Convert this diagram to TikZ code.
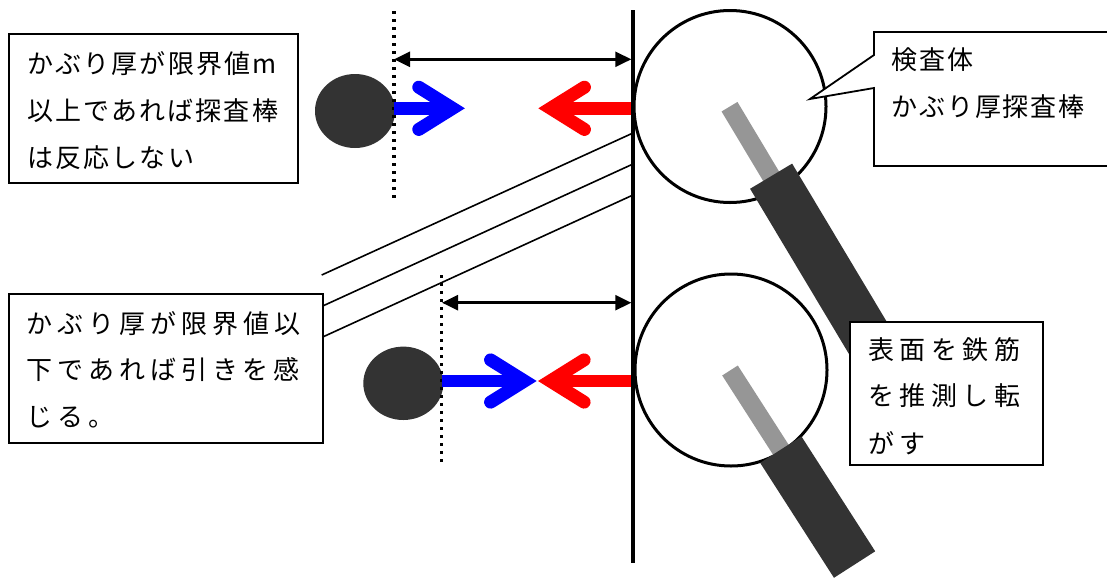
\documentclass[tikz,border=0pt]{standalone}
\usepackage{fontspec}
\usetikzlibrary{arrows.meta,shapes.geometric}
% Japanese label fonts with a little tracking per box
\newfontfamily\jpTL[LetterSpace=8]{Noto Sans CJK JP}
\newfontfamily\jpBL[LetterSpace=19]{Noto Sans CJK JP}
\newfontfamily\jpTR[LetterSpace=7]{Noto Sans CJK JP}
\newfontfamily\jpBR[LetterSpace=21]{Noto Sans CJK JP}
\definecolor{rebar}{HTML}{333333}
\definecolor{tipgray}{HTML}{969696}
\definecolor{pushblue}{HTML}{0000FF}
\definecolor{pullred}{HTML}{FF0000}
\begin{document}
\begin{tikzpicture}[x=1pt,y=-1pt,
  wall/.style={line width=3.5pt},
  lens/.style={circle, draw, line width=3pt, fill=white, inner sep=0pt, minimum size=192pt},
  rebarnode/.style={ellipse, fill=rebar, inner sep=0pt},
  dimline/.style={line width=2.5pt, {Triangle[length=16pt,width=15pt]}-{Triangle[length=16pt,width=15pt]}},
  coverline/.style={line width=3.3pt, dash pattern=on 3.3pt off 4.7pt},
  leader/.style={line width=1.6pt},
  shaft/.style={line width=12.5pt},
  chevron/.style={line width=13pt, line cap=round, line join=miter},
  textbox/.style={rectangle, draw, line width=1.8pt, fill=white, inner sep=0pt},
  tl/.style={anchor=base west, inner sep=0pt, font=\jpTL\fontsize{26}{30}\selectfont},
  bl/.style={anchor=base west, inner sep=0pt, font=\jpBL\fontsize{26}{30}\selectfont},
  tr/.style={anchor=base west, inner sep=0pt, font=\jpTR\fontsize{26}{30}\selectfont},
  br/.style={anchor=base west, inner sep=0pt, font=\jpBR\fontsize{26}{30}\selectfont}]
\useasboundingbox (0,0) rectangle (1107,579);

% leader lines from the lower note to the concrete surface
\coordinate (leadA0) at (321.7,275);  \coordinate (leadA1) at (633,133);
\coordinate (leadB0) at (322.7,306);  \coordinate (leadB1) at (633,164);
\coordinate (leadC0) at (322.7,337);  \coordinate (leadC1) at (633,195);
\draw[leader] (leadA0) -- (leadA1);
\draw[leader] (leadB0) -- (leadB1);
\draw[leader] (leadC0) -- (leadC1);

% concrete surface
\coordinate (wallTop) at (633,10);
\coordinate (wallBot) at (633,563);
\draw[wall] (wallTop) -- (wallBot);

% cover depth dimensions
\coordinate (dimAl) at (394,59.3);  \coordinate (dimAr) at (631.3,59.3);
\coordinate (dimBl) at (442,302.7); \coordinate (dimBr) at (631.3,302.7);
\draw[dimline] (dimAl) -- (dimAr);
\draw[dimline] (dimBl) -- (dimBr);

% inspection lenses
\node[lens] (lensA) at (730,106.5) {};
\node[lens] (lensB) at (731,370) {};

% cover probes (gray tip, dark grip)
\begin{scope}[shift={(729.5,106.7)}, rotate=-59.1]
  \fill[tipgray] (0,-9.25) rectangle (90,9.25);
  \fill[rebar] (81,-24.5) rectangle (281,24.5);
\end{scope}
\begin{scope}[shift={(730,370.5)}, rotate=-57.3]
  \fill[tipgray] (0,-9.25) rectangle (100,9.25);
  \fill[rebar] (94,-24.5) rectangle (230.6,24.5);
\end{scope}

% reinforcing bars
\node[rebarnode, minimum width=80pt, minimum height=74pt] (barA) at (355,111) {};
\node[rebarnode, minimum width=80pt, minimum height=73.4pt] (barB) at (403.3,383.3) {};

% limit lines
\coordinate (limAt) at (394,11);   \coordinate (limAb) at (394,201);
\coordinate (limBt) at (441.7,275); \coordinate (limBb) at (441.7,463);
\draw[coverline] (limAt) -- (limAb);
\draw[coverline] (limBt) -- (limBb);

% forces, upper case
\coordinate (pushA0) at (394,108.3);   \coordinate (pushA1) at (452.6,108.3);
\coordinate (pullA0) at (631.3,108.3); \coordinate (pullA1) at (550.6,108.3);
\draw[shaft, pushblue] (pushA0) -- (pushA1);
\draw[chevron, pushblue] (418.8,87.2) -- (pushA1) -- (418.8,129.4);
\draw[shaft, pullred] (pullA0) -- (pullA1);
\draw[chevron, pullred] (584.4,87.2) -- (pullA1) -- (584.4,129.4);

% forces, lower case
\coordinate (pushB0) at (441.7,381);   \coordinate (pushB1) at (524.4,381);
\coordinate (pullB0) at (631.3,381);   \coordinate (pullB1) at (550.3,381);
\draw[shaft, pushblue] (pushB0) -- (pushB1);
\draw[chevron, pushblue] (490.6,359.9) -- (pushB1) -- (490.6,402.1);
\draw[shaft, pullred] (pullB0) -- (pullB1);
\draw[chevron, pullred] (584.1,359.9) -- (pullB1) -- (584.1,402.1);

% callout for the lens
\draw[line width=1.8pt, fill=white] (1115,32) -- (874,32) -- (874,55) -- (810,99)
  -- (874,88) -- (874,166) -- (1115,166);

% note boxes
\node[textbox, minimum width=288.4pt, minimum height=148.4pt] (boxTL) at (153.5,108.5) {};
\node[textbox, minimum width=313.4pt, minimum height=149pt] (boxBL) at (166,368.8) {};
\node[textbox, minimum width=192.7pt, minimum height=143.3pt] (boxBR) at (946.4,393.4) {};

% texts
\node[tl] (tl1) at (27.5,73.9)  {かぶり厚が限界値m};
\node[tl] (tl2) at (27.5,120.7) {以上であれば探査棒};
\node[tl] (tl3) at (27.5,167.4) {は反応しない};

\node[bl] (bl1) at (26.5,333.2) {かぶり厚が限界値以};
\node[bl] (bl2) at (26.5,379.9) {下であれば引きを感};
\node[bl] (bl3) at (26.5,426.4) {じる。};

\node[tr] (tr1) at (891.5,69.9)  {検査体};
\node[tr] (tr2) at (891.5,116.6) {かぶり厚探査棒};

\node[br] (br1) at (868,359.1) {表面を鉄筋};
\node[br] (br2) at (868,405.7) {を推測し転};
\node[br] (br3) at (868,453.5) {がす};
\end{tikzpicture}
\end{document}
